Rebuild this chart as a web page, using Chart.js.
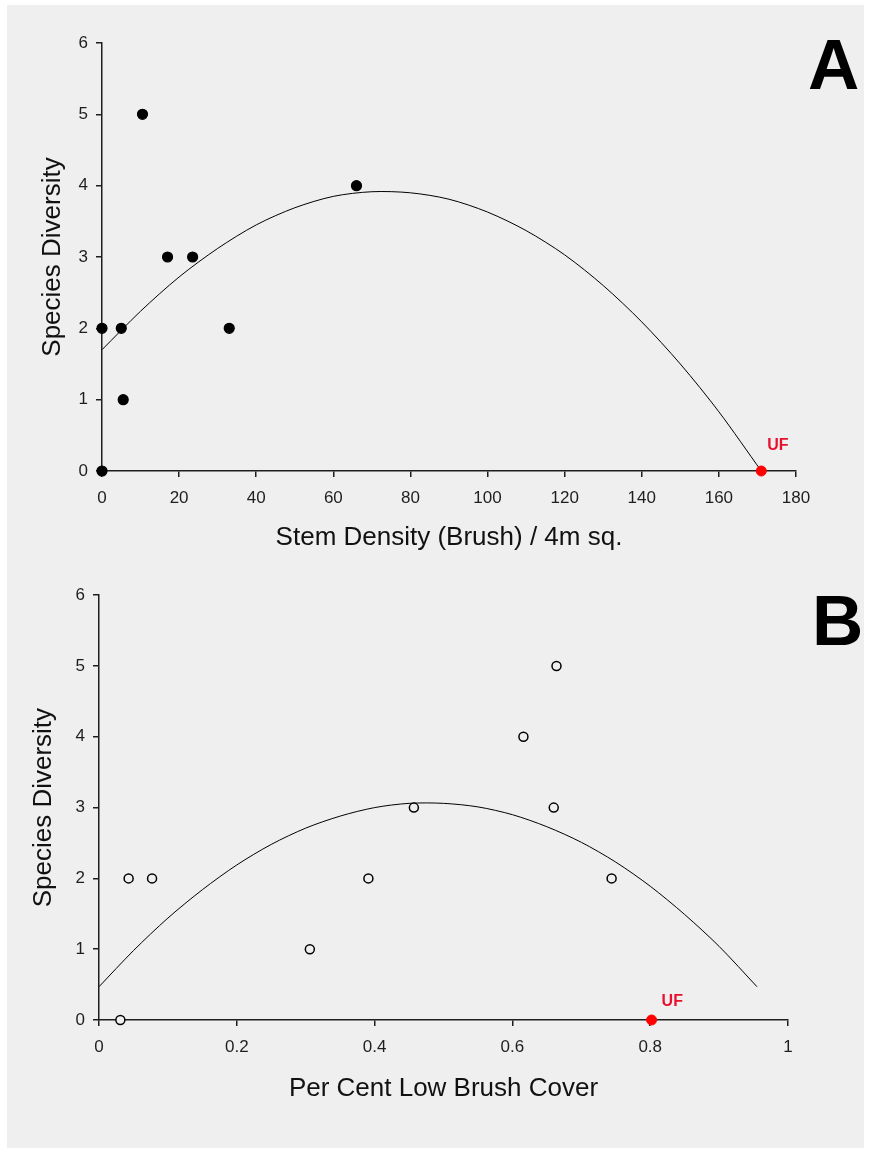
<!DOCTYPE html>
<html>
<head>
<meta charset="utf-8">
<script src="https://cdn.jsdelivr.net/npm/chart.js"></script>
<style>
    html, body { margin: 0; padding: 0; background: #ffffff; }
    #page { position: relative; width: 871px; height: 1154px; overflow: hidden; }
    #panel { position: absolute; left: 7px; top: 5px; width: 857px; height: 1143px; background: #efefef; }
    canvas { position: absolute; left: 0; }
    .letter { position: absolute; font-family: "Liberation Sans", Arial, sans-serif; font-weight: bold; font-size: 71px; line-height: 1; color: #000; }
</style>
</head>
<body>
<div id="page">
    <div id="panel"></div>
    <canvas id="chartA" width="871" height="577" style="top:0"></canvas>
    <canvas id="chartB" width="871" height="577" style="top:577px"></canvas>
    <div class="letter" style="left:808px; top:29px">A</div>
    <div class="letter" style="left:812px; top:585px">B</div>
</div>
<script>
// Panel A: stem density vs species diversity
const stemDensity = [0, 0, 5, 5.5, 10.5, 17, 23.5, 33, 66];
const diversityA = [2, 0, 2, 1, 5, 3, 3, 2, 4];
const ufStem = [171];
const ufDiversityA = [0];
// fitted curve
const fitStem = [0, 10, 20, 30, 40, 50, 60, 70, 80, 90, 100, 110, 120, 130, 140, 150, 160, 171];
const fitDiversityA = [1.70, 2.24, 2.72, 3.12, 3.45, 3.69, 3.85, 3.915, 3.90, 3.81, 3.63, 3.37, 3.03, 2.60, 2.09, 1.50, 0.83, 0.0];

// Panel B: low brush cover vs species diversity
const brushCover = [0.031, 0.043, 0.077, 0.306, 0.391, 0.457, 0.616, 0.660, 0.664, 0.744];
const diversityB = [0, 2, 2, 1, 2, 3, 4, 3, 5, 2];
const ufCover = [0.802];
const ufDiversityB = [0];
const fitCover = [0, 0.05, 0.1, 0.15, 0.2, 0.25, 0.3, 0.35, 0.4, 0.45, 0.5, 0.55, 0.6, 0.65, 0.7, 0.75, 0.8, 0.85, 0.9, 0.955];
const fitDiversityB = [0.47, 0.98, 1.44, 1.84, 2.19, 2.48, 2.71, 2.88, 3.00, 3.06, 3.06, 3.01, 2.90, 2.73, 2.51, 2.23, 1.89, 1.49, 1.04, 0.47];

const yTicks = [0, 1, 2, 3, 4, 5, 6];
const xTicksA = [0, 20, 40, 60, 80, 100, 120, 140, 160, 180];
const xTicksB = [0, 0.2, 0.4, 0.6, 0.8, 1];

const FONT = "'Liberation Sans', Arial, sans-serif";
const AXIS = '#1e1e1e';

function toPoints(xs, ys) {
    return xs.map((x, i) => ({ x: x, y: ys[i] }));
}

// writes the red "UF" note next to the unfenced point
const ufLabel = {
    id: 'ufLabel',
    afterDatasetsDraw(chart, args, opts) {
        const pt = chart.getDatasetMeta(opts.dataset).data[0];
        const ctx = chart.ctx;
        ctx.save();
        ctx.font = 'bold 16px ' + FONT;
        ctx.fillStyle = '#e8112d';
        ctx.textBaseline = 'middle';
        ctx.fillText(opts.text, pt.x + opts.dx, pt.y + opts.dy);
        ctx.restore();
    }
};

function axis(min, max, ticks, title, titlePad, size, isX) {
    return {
        type: 'linear',
        min: min,
        max: max,
        afterBuildTicks: scale => { scale.ticks = ticks.map(v => ({ value: v })); },
        afterFit: scale => {
            if (isX) scale.height = size; else scale.width = size;
        },
        border: { display: true, color: AXIS, width: 1.5 },
        grid: { display: true, drawOnChartArea: false, drawTicks: true, tickLength: 6, color: AXIS, lineWidth: 1.5 },
        ticks: {
            color: AXIS,
            font: { family: FONT, size: 17 },
            padding: isX ? 11 : 8,
            maxRotation: 0,
            autoSkip: false,
            callback: v => String(+v.toFixed(1))
        },
        title: {
            display: true,
            text: title,
            color: '#111111',
            font: { family: FONT, size: 26 },
            padding: isX ? { top: 0, bottom: titlePad } : { top: titlePad, bottom: 0 }
        }
    };
}

function makeChart(id, cfg) {
    const ctx = document.getElementById(id).getContext('2d');
    return new Chart(ctx, {
        type: 'scatter',
        data: {
            datasets: [
                {
                    label: 'UF',
                    data: toPoints(cfg.ufX, cfg.ufY),
                    pointRadius: 5,
                    pointBackgroundColor: '#ff0000',
                    pointBorderColor: '#ff0000',
                    pointBorderWidth: 1,
                    clip: false
                },
                {
                    label: 'Sites',
                    data: toPoints(cfg.x, cfg.y),
                    pointRadius: cfg.open ? 4.5 : 5,
                    pointBackgroundColor: cfg.open ? '#efefef' : '#000000',
                    pointBorderColor: '#000000',
                    pointBorderWidth: cfg.open ? 1.5 : 1.2,
                    clip: false
                },
                {
                    label: 'Fit',
                    type: 'line',
                    data: toPoints(cfg.fitX, cfg.fitY),
                    showLine: true,
                    borderColor: '#000000',
                    borderWidth: 1,
                    pointRadius: 0,
                    tension: 0.3,
                    fill: false,
                    clip: false
                }
            ]
        },
        options: {
            responsive: false,
            animation: false,
            events: [],
            layout: { padding: cfg.padding },
            plugins: {
                legend: { display: false },
                tooltip: { enabled: false },
                ufLabel: { dataset: 0, text: 'UF', dx: cfg.ufDx, dy: cfg.ufDy }
            },
            scales: {
                x: axis(cfg.xMin, cfg.xMax, cfg.xTicks, cfg.xTitle, cfg.xTitlePad, cfg.xHeight, true),
                y: axis(0, 6, yTicks, 'Species Diversity', cfg.yTitlePad, cfg.yWidth, false)
            }
        },
        plugins: [ufLabel]
    });
}

makeChart('chartA', {
    x: stemDensity, y: diversityA, ufX: ufStem, ufY: ufDiversityA,
    fitX: fitStem, fitY: fitDiversityA, open: false,
    xMin: 0, xMax: 180, xTicks: xTicksA,
    xTitle: 'Stem Density (Brush) / 4m sq.',
    padding: { left: 0, right: 75, top: 43, bottom: 0 },
    yWidth: 102, xHeight: 106, yTitlePad: 37, xTitlePad: 24,
    ufDx: 6, ufDy: -25
});

makeChart('chartB', {
    x: brushCover, y: diversityB, ufX: ufCover, ufY: ufDiversityB,
    fitX: fitCover, fitY: fitDiversityB, open: true,
    xMin: 0, xMax: 1, xTicks: xTicksB,
    xTitle: 'Per Cent Low Brush Cover',
    padding: { left: 0, right: 83, top: 17, bottom: 0 },
    yWidth: 99, xHeight: 134, yTitlePad: 28, xTitlePad: 50,
    ufDx: 10, ufDy: -18
});
</script>
</body>
</html>
